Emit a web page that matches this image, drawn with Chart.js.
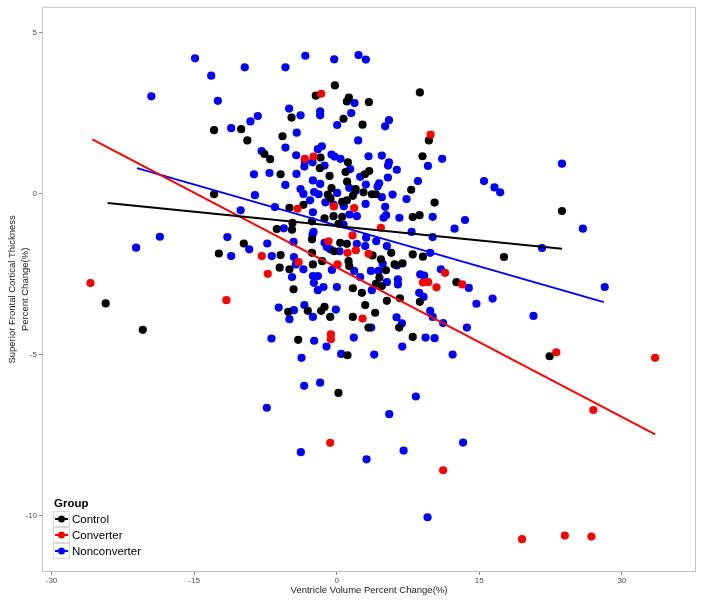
<!DOCTYPE html>
<html>
<head>
<meta charset="utf-8">
<script src="https://cdn.jsdelivr.net/npm/chart.js@4.4.1/dist/chart.umd.min.js"></script>
<style>
  html, body { margin: 0; padding: 0; background: #ffffff; }
  #wrap { width: 704px; height: 601px; }
</style>
</head>
<body>
<div id="wrap"><canvas id="chart" width="704" height="601"></canvas></div>
<script>
// Tick values
const xTicks = [-30, -15, 0, 15, 30];
const yTicks = [-10, -5, 0, 5];

// Control points [x, y]
const controlPoints = [
  [-0.19, 3.36], [-2.2, 3.04], [1.28, 2.98], [1.07, 2.86], [3.39, 2.84], [-4.75, 2.36], [0.72, 2.32],
  [2.72, 2.14], [-12.9, 1.97], [-10.05, 2.0], [-9.4, 1.65], [-5.7, 1.78], [-7.6, 1.23], [-7.0, 1.07],
  [-1.7, 1.12], [1.18, 0.97], [-1.77, 0.79], [3.42, 0.7], [2.96, 0.6], [-0.75, 0.55], [0.93, 0.67],
  [-5.9, 0.6], [1.1, 0.37], [2.0, 0.14], [-0.54, 0.17], [7.84, 0.12], [3.7, -0.02], [4.12, -0.02],
  [-0.93, -0.03], [-0.65, -0.15], [1.7, -0.07], [2.82, 0.04], [-12.9, -0.02], [-3.5, -0.35],
  [-4.97, -0.44], [0.58, -0.26], [1.07, -0.21],
  [-20.4, -4.23], [-12.4, -1.86], [-9.77, -1.55], [-6.3, -1.1], [-4.7, -1.12], [-4.65, -0.91],
  [-2.6, -0.86], [-1.28, -0.77], [-0.33, -0.7], [0.58, -0.72], [0.19, -0.94], [-0.26, -1.79],
  [0.37, -1.53], [1.07, -1.56], [-2.6, -1.42], [-2.6, -1.84], [-5.9, -1.91], [-6.0, -2.3],
  [-4.97, -2.35], [-2.5, -2.2], [-1.53, -2.1], [1.25, -2.1], [1.32, -2.25], [3.77, -1.92],
  [5.74, -1.84], [8.0, -1.89], [6.93, -2.17], [6.09, -2.2], [5.18, -2.38], [4.65, -2.04],
  [4.5, -2.61], [4.12, -2.8], [4.75, -2.87], [1.7, -2.94], [2.65, -3.08], [3.0, -3.46], [4.05, -3.7],
  [5.28, -3.33], [6.65, -3.25], [-4.54, -2.97], [-5.1, -3.67], [-3.04, -3.64], [-1.63, -3.64],
  [-1.28, -3.52], [-0.68, -3.83], [1.7, -3.83], [3.35, -4.16], [6.58, -4.16], [8.0, -4.45],
  [-4.05, -4.54], [1.14, -5.02], [8.0, -0.73], [0.19, -6.19],
  [8.75, 3.14], [9.7, 1.65], [9.03, 1.16], [10.3, -0.28], [23.7, -0.54],
  [8.72, -0.67], [9.07, -1.96], [17.6, -1.97], [12.6, -2.75], [8.75, -3.36], [22.4, -5.05],
  [-24.3, -3.41]
];

// Converter points [x, y]
const converterPoints = [
  [-1.63, 3.1], [-2.44, 1.15], [-3.35, 1.08], [1.84, -0.45], [-4.12, -0.47], [-0.3, -0.4],
  [1.67, -1.3], [1.14, -1.84], [2.02, -1.76], [3.35, -1.87], [4.65, -1.06], [-0.86, -1.48],
  [0.09, -2.2], [-4.0, -2.13], [-7.88, -1.94], [-7.25, -2.49], [-11.6, -3.31], [2.72, -3.88],
  [-0.61, -4.37], [-0.61, -4.52], [-0.68, -7.74],
  [27.0, -6.72], [11.2, -8.59], [19.5, -10.73], [24.0, -10.62], [26.8, -10.65],
  [9.88, 1.83], [11.4, -2.46], [9.07, -2.76], [9.63, -2.75], [10.5, -2.91], [13.2, -2.82],
  [23.1, -4.93], [33.5, -5.1], [-25.9, -2.78]
];

// Nonconverter points [x, y]
const nonconverterPoints = [
  [-14.9, 4.2], [-3.3, 4.28], [-0.26, 4.17], [2.3, 4.3], [3.07, 4.16], [-13.2, 3.66], [-9.67, 3.92],
  [-5.39, 3.92], [-19.5, 3.02], [-12.5, 2.88], [1.88, 2.81], [-1.74, 2.55], [-1.74, 2.43], [1.53, 2.5],
  [-5.0, 2.64], [-3.8, 2.43], [-8.3, 2.41], [-9.07, 2.24], [-11.1, 2.03], [-4.2, 1.89], [0.05, 2.13],
  [5.5, 2.28], [5.1, 2.09], [2.26, 1.65], [-5.39, 1.43], [-7.9, 1.32], [-1.56, 1.47], [-1.98, 1.38],
  [-4.26, 1.19], [-0.54, 1.21], [-0.23, 1.15], [0.4, 1.08], [3.35, 1.16], [4.75, 1.18], [5.5, 0.97],
  [5.4, 0.87], [-3.35, 1.0], [-3.4, 0.84], [-2.54, 0.97], [-1.28, 0.87], [1.42, 0.76], [6.33, 0.74],
  [-8.7, 0.6], [-7.07, 0.64], [-4.23, 0.61], [2.47, 0.52], [5.39, 0.5], [-5.4, 0.27], [-2.5, 0.41],
  [-1.74, 0.3], [3.07, 0.28], [4.47, 0.32], [4.3, 0.22], [5.88, -0.03], [7.35, -0.17], [4.75, -0.11],
  [-2.37, 0.05], [-1.9, -0.02], [-2.8, -0.21], [-3.5, -0.01], [0.05, 0.02], [1.32, 0.18], [1.95, 0.07],
  [-3.8, 0.14], [-8.6, -0.05], [-10.1, -0.52], [-6.5, -0.42], [-1.18, -0.27], [-0.33, -0.34],
  [0.75, -0.39], [3.04, -0.32], [5.1, -0.41],
  [-2.5, -0.58], [2.12, -0.7], [1.35, -0.65], [5.2, -0.67], [4.93, -0.75], [6.6, -0.75],
  [-18.6, -1.34], [-21.1, -1.68], [-11.5, -1.35], [-11.1, -1.94], [-9.2, -1.73], [-7.3, -1.55],
  [-5.56, -1.08], [-4.54, -1.5], [-6.83, -1.94], [-4.5, -1.97], [-2.54, -1.27], [-2.44, -1.19],
  [-1.28, -1.53], [-1.04, -1.66], [-0.68, -1.73], [0.3, -1.79], [2.12, -1.56], [3.0, -1.63],
  [3.1, -1.37], [4.16, -1.48], [5.28, -1.63], [4.84, -2.18], [3.6, -2.4], [4.4, -2.4], [6.33, -2.23],
  [6.44, -2.66], [6.44, -2.82], [5.28, -2.75], [3.7, -3.0], [2.47, -2.59], [1.84, -2.4], [-0.5, -2.37],
  [0.02, -2.9], [-1.39, -2.9], [-1.98, -3.0], [-2.4, -2.77], [-2.5, -2.56], [-1.98, -2.56],
  [-3.5, -2.35], [-4.3, -2.2], [-4.7, -2.59], [-6.1, -3.54], [-4.5, -3.62], [-4.97, -3.9],
  [-3.4, -3.46], [-2.5, -3.83], [-0.09, -3.6], [6.3, -3.84], [6.86, -4.03], [3.63, -4.16],
  [-6.86, -4.5], [-2.37, -4.57], [-1.07, -4.75], [1.8, -4.47], [-3.7, -5.1], [0.47, -4.98],
  [3.95, -5.0], [6.9, -4.75], [-3.42, -5.97], [-1.74, -5.87], [0.72, -0.96], [7.88, -1.19],
  [-7.35, -6.65], [5.53, -6.85], [-3.77, -8.03], [3.14, -8.25], [7.04, -7.98],
  [8.33, -6.3], [13.3, -7.73], [9.56, -10.05],
  [11.1, 1.08], [9.6, 0.86], [8.55, 0.39], [15.5, 0.39], [16.6, 0.19], [17.2, 0.04], [23.7, 0.93],
  [10.1, -0.72], [13.5, -0.82], [12.4, -1.09], [25.9, -1.09], [10.1, -1.35], [21.6, -1.69],
  [9.84, -1.84], [10.96, -2.35], [8.79, -2.51], [9.2, -2.55], [13.9, -2.93], [16.4, -3.26],
  [14.7, -3.42], [8.68, -3.08], [9.14, -3.21], [28.2, -2.9], [9.84, -3.64], [10.1, -3.83],
  [11.2, -4.02], [13.7, -4.16], [20.7, -3.8], [9.35, -4.47], [10.3, -4.49], [12.2, -5.0]
];

// Fitted line end points [x, y]
const controlFit = [[-24.1, -0.29], [23.7, -1.71]];
const converterFit = [[-25.7, 1.68], [33.5, -7.48]];
const nonconverterFit = [[-21.0, 0.79], [28.1, -3.37]];

const FONT = '"Liberation Sans", Arial, sans-serif';

function toXY(list) {
    return list.map(p => ({ x: p[0], y: p[1] }));
}

function pointSet(label, list, colour, order) {
    return {
        label: label,
        data: toXY(list),
        backgroundColor: colour,
        borderWidth: 0,
        pointRadius: 4.1,
        showLine: false,
        order: order
    };
}

function fitSet(list, colour) {
    return {
        label: '',
        isFit: true,
        data: toXY(list),
        borderColor: colour,
        borderWidth: 2,
        pointRadius: 0,
        showLine: true,
        fill: false,
        order: 0
    };
}

// grey panel border
const panelBorder = {
    id: 'panelBorder',
    beforeDatasetsDraw(chart) {
        const a = chart.chartArea;
        const ctx = chart.ctx;
        ctx.save();
        ctx.strokeStyle = '#c4c4c4';
        ctx.lineWidth = 1;
        ctx.strokeRect(a.left + 0.5, a.top + 0.5, a.right - a.left - 1, a.bottom - a.top - 1);
        ctx.restore();
    }
};

// ggplot-like legend in the lower left of the panel
const groupLegend = {
    id: 'groupLegend',
    afterDraw(chart) {
        const ctx = chart.ctx;
        const x0 = 53, y0 = 511, key = 16;
        ctx.save();
        ctx.fillStyle = '#000';
        ctx.font = 'bold 11.5px ' + FONT;
        ctx.textBaseline = 'alphabetic';
        ctx.fillText('Group', x0 + 1, y0 - 4);
        const items = chart.data.datasets.filter(d => !d.isFit);
        items.forEach((ds, i) => {
            const top = y0 + i * key;
            ctx.fillStyle = '#ffffff';
            ctx.fillRect(x0, top, key + 1, key);
            ctx.strokeStyle = '#d9d9d9';
            ctx.lineWidth = 1;
            ctx.strokeRect(x0 + 0.5, top + 0.5, key, key - 1);
            ctx.strokeStyle = ds.backgroundColor;
            ctx.lineWidth = 2;
            ctx.beginPath();
            ctx.moveTo(x0 + 2, top + key / 2);
            ctx.lineTo(x0 + key - 1, top + key / 2);
            ctx.stroke();
            ctx.fillStyle = ds.backgroundColor;
            ctx.beginPath();
            ctx.arc(x0 + key / 2 + 0.5, top + key / 2, 3.5, 0, Math.PI * 2);
            ctx.fill();
            ctx.fillStyle = '#000';
            ctx.font = '11.5px ' + FONT;
            ctx.textBaseline = 'middle';
            ctx.fillText(ds.label, x0 + key + 3, top + key / 2 + 0.5);
        });
        ctx.restore();
    }
};

const ctx = document.getElementById('chart').getContext('2d');
new Chart(ctx, {
    type: 'scatter',
    data: {
        datasets: [
            pointSet('Control', controlPoints, '#000000', 2),
            pointSet('Converter', converterPoints, '#ff0000', 1),
            pointSet('Nonconverter', nonconverterPoints, '#0000ff', 3),
            fitSet(controlFit, '#000000'),
            fitSet(converterFit, '#ff0000'),
            fitSet(nonconverterFit, '#0000ff')
        ]
    },
    options: {
        responsive: false,
        devicePixelRatio: 1,
        animation: false,
        events: [],
        layout: { padding: { top: 5, right: 8, left: 0, bottom: 0 } },
        plugins: {
            legend: { display: false },
            tooltip: { enabled: false }
        },
        scales: {
            x: {
                type: 'linear',
                min: -31,
                max: 37.8,
                afterBuildTicks: s => { s.ticks = xTicks.map(v => ({ value: v })); },
                afterFit: s => { s.height = 29; },
                grid: { display: true, drawOnChartArea: false, tickLength: 3, color: '#8c8c8c' },
                border: { display: false },
                ticks: { font: { size: 8, family: FONT }, color: '#4d4d4d', padding: 1, maxRotation: 0 },
                title: {
                    display: true,
                    text: 'Ventricle Volume Percent Change(%)',
                    font: { size: 9.5, family: FONT },
                    color: '#1a1a1a',
                    padding: { top: 0, bottom: 5 }
                }
            },
            y: {
                type: 'linear',
                min: -11.75,
                max: 5.8,
                afterBuildTicks: s => { s.ticks = yTicks.map(v => ({ value: v })); },
                afterFit: s => { s.width = 42; },
                grid: { display: true, drawOnChartArea: false, tickLength: 3, color: '#8c8c8c' },
                border: { display: false },
                ticks: { font: { size: 8, family: FONT }, color: '#4d4d4d', padding: 2 },
                title: {
                    display: true,
                    text: ['Superior Frontal Cortical Thickness', 'Percent Change(%)'],
                    font: { size: 9.5, family: FONT, lineHeight: 1.35 },
                    color: '#1a1a1a',
                    padding: { top: 6, bottom: 0 }
                }
            }
        }
    },
    plugins: [panelBorder, groupLegend]
});
</script>
</body>
</html>
